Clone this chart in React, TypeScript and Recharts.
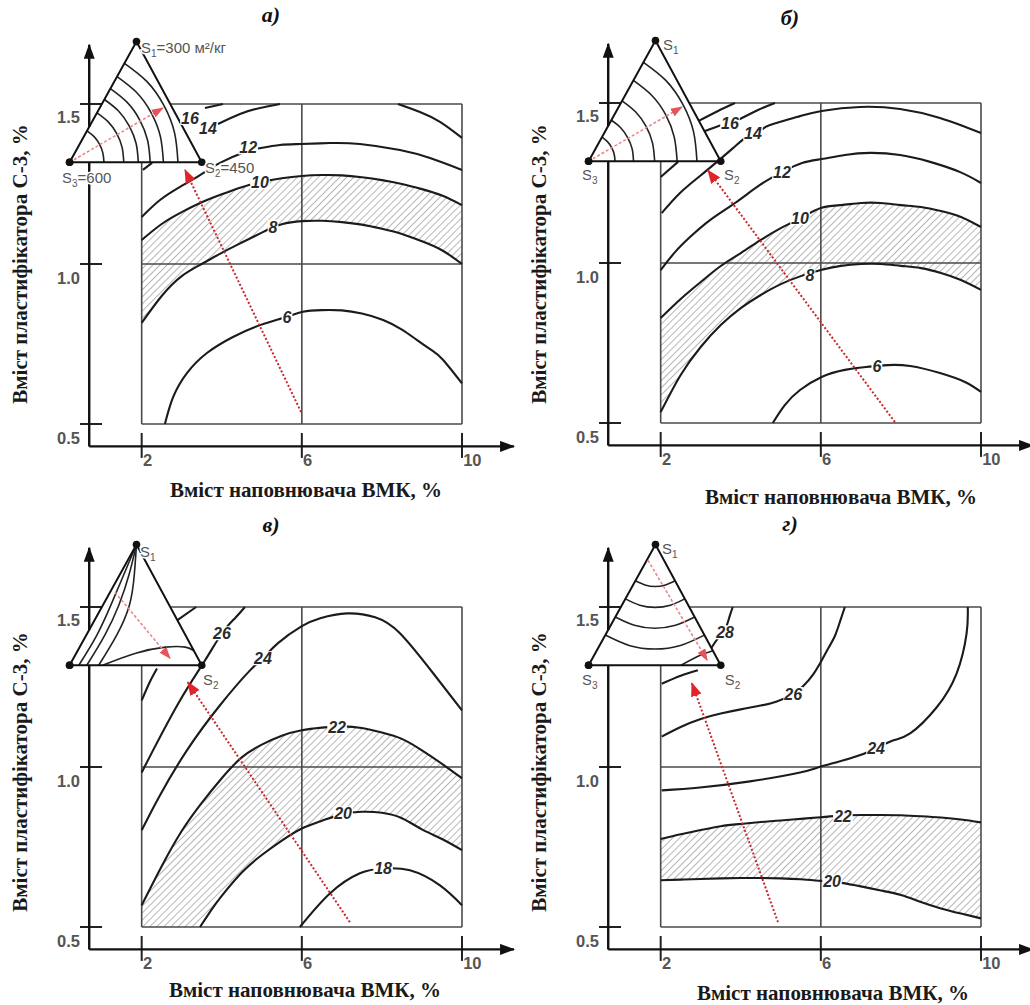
import React from "react";
import { ComposedChart, Line, Area, Scatter, XAxis, YAxis, ReferenceLine } from "recharts";

type Pt = { x: number; y: number };
type Lab = { x: number; y: number; t: string; sub?: string; rest?: string };
type Band = { x: number; lo: number; hi: number };
type Tri = [number, number];

const W = 515;
const H = 500;
const X_DOMAIN: [number, number] = [-1.5385, 11.324];
const Y_DOMAIN: [number, number] = [0.2625, 1.825];

const FONT_SANS = "'Liberation Sans', Arial, sans-serif";
const FONT_SERIF = "'Liberation Serif', 'Times New Roman', serif";

// ---- shared axis values ----
const xTicks = [2, 6, 10];
const yTicks = [0.5, 1.0, 1.5];
const xTickLabels: Lab[] = [
  { x: 2.03, y: 0.3875, t: "2" },
  { x: 6.03, y: 0.3875, t: "6" },
  { x: 10.03, y: 0.3875, t: "10" },
];
const yTickLabels: Lab[] = [
  { x: 0.46, y: 0.456, t: "0.5" },
  { x: 0.46, y: 0.956, t: "1.0" },
  { x: 0.46, y: 1.459, t: "1.5" },
];
const axisYLower: Pt[] = [{ x: 0.69, y: 0.43 }, { x: 0.69, y: 1.318 }];
const axisYUpper: Pt[] = [{ x: 0.69, y: 1.428 }, { x: 0.69, y: 1.685 }];
const axisX: Pt[] = [{ x: 0.69, y: 0.43 }, { x: 11.3, y: 0.43 }];
const triVerts: Pt[] = [
  { x: 0.2, y: 1.318 },
  { x: 1.87, y: 1.695 },
  { x: 3.5, y: 1.318 },
  { x: 0.2, y: 1.318 },
];
const boxTopStart = 2.713;
const tick15End = 1.006;

// ---- panel а ----
const aContours: Pt[][] = [
  [{ x: 3.58, y: 1.4875 }, { x: 4.03, y: 1.5 }],
  [{ x: 3.906, y: 1.4375 }, { x: 4.455, y: 1.469 }, { x: 4.955, y: 1.4875 }, { x: 5.455, y: 1.5 }],
  [{ x: 8.4, y: 1.5 }, { x: 8.95, y: 1.475 }, { x: 9.45, y: 1.444 }, { x: 10, y: 1.394 }],
  [{ x: 2.03, y: 1.294 }, { x: 2.26, y: 1.316 }],
  [
    { x: 2.0, y: 1.147 }, { x: 2.458, y: 1.2 }, { x: 2.958, y: 1.241 }, { x: 3.457, y: 1.278 },
    { x: 3.956, y: 1.316 }, { x: 4.58, y: 1.35 }, { x: 4.95, y: 1.362 }, { x: 5.455, y: 1.372 },
    { x: 5.98, y: 1.375 }, { x: 6.7, y: 1.378 }, { x: 7.45, y: 1.375 }, { x: 8.45, y: 1.356 },
    { x: 9.2, y: 1.331 }, { x: 10.0, y: 1.294 },
  ],
  [
    { x: 2.58, y: 0.5 }, { x: 2.785, y: 0.584 }, { x: 3.13, y: 0.659 }, { x: 3.63, y: 0.722 },
    { x: 4.28, y: 0.772 }, { x: 4.955, y: 0.809 }, { x: 5.63, y: 0.835 }, { x: 6.03, y: 0.851 },
    { x: 6.5, y: 0.856 }, { x: 7.0, y: 0.855 }, { x: 7.5, y: 0.845 }, { x: 8.03, y: 0.825 },
    { x: 8.5, y: 0.795 }, { x: 8.87, y: 0.763 }, { x: 9.25, y: 0.73 }, { x: 9.53, y: 0.7 },
    { x: 10, y: 0.627 },
  ],
];
const aBand: Band[] = [
  { x: 2.0, lo: 0.816, hi: 1.075 }, { x: 2.5, lo: 0.9, hi: 1.125 }, { x: 3.0, lo: 0.962, hi: 1.162 },
  { x: 3.5, lo: 1.0, hi: 1.193 }, { x: 4.0, lo: 1.035, hi: 1.218 }, { x: 4.5, lo: 1.067, hi: 1.24 },
  { x: 5.0, lo: 1.098, hi: 1.257 }, { x: 5.5, lo: 1.124, hi: 1.268 }, { x: 6.0, lo: 1.134, hi: 1.275 },
  { x: 6.5, lo: 1.135, hi: 1.278 }, { x: 7.0, lo: 1.131, hi: 1.277 }, { x: 7.5, lo: 1.123, hi: 1.271 },
  { x: 8.0, lo: 1.11, hi: 1.262 }, { x: 8.5, lo: 1.094, hi: 1.25 }, { x: 9.0, lo: 1.071, hi: 1.234 },
  { x: 9.5, lo: 1.043, hi: 1.214 }, { x: 10.0, lo: 1.0, hi: 1.184 },
];
const aLabels: Lab[] = [
  { x: 3.206, y: 1.456, t: "16" },
  { x: 3.656, y: 1.425, t: "14" },
  { x: 4.66, y: 1.364, t: "12" },
  { x: 4.955, y: 1.256, t: "10" },
  { x: 5.28, y: 1.116, t: "8" },
  { x: 5.63, y: 0.834, t: "6" },
];
const aSLabels: Lab[] = [
  { x: 1.983, y: 1.675, t: "S", sub: "1", rest: "=300 м²/кг" },
  { x: 3.58, y: 1.302, t: "S", sub: "2", rest: "=450" },
  { x: 0.01, y: 1.27, t: "S", sub: "3", rest: "=600" },
];
const aTriCurves: Tri[][] = [
  [[0.26, 0], [0.212, 0.078], [0.15, 0.15], [0.078, 0.212], [0, 0.26]],
  [[0.41, 0], [0.335, 0.123], [0.237, 0.237], [0.123, 0.335], [0, 0.41]],
  [[0.52, 0], [0.425, 0.155], [0.3, 0.3], [0.155, 0.425], [0, 0.52]],
  [[0.61, 0], [0.498, 0.182], [0.352, 0.352], [0.182, 0.498], [0, 0.61]],
  [[0.71, 0], [0.58, 0.212], [0.41, 0.41], [0.212, 0.58], [0, 0.71]],
  [[0.82, 0], [0.67, 0.245], [0.473, 0.473], [0.245, 0.67], [0, 0.82]],
];
const aArrow: Pt[] = [{ x: 5.98, y: 0.5375 }, { x: 3.083, y: 1.294 }];
const aTriArrow: Pt[] = [{ x: 0.2, y: 1.318 }, { x: 2.53, y: 1.4875 }];

// ---- panel б ----
const bContours: Pt[][] = [
  [{ x: 2.95, y: 1.444 }, { x: 3.432, y: 1.475 }, { x: 3.857, y: 1.5 }],
  [{ x: 2.0, y: 1.269 }, { x: 2.433, y: 1.316 }],
  [{ x: 3.09, y: 1.412 }, { x: 3.53, y: 1.431 }, { x: 3.73, y: 1.4375 }, { x: 3.98, y: 1.45 }, { x: 4.43, y: 1.478 }, { x: 4.855, y: 1.5 }],
  [
    { x: 2.025, y: 1.156 }, { x: 2.483, y: 1.219 }, { x: 2.982, y: 1.272 }, { x: 3.432, y: 1.319 },
    { x: 3.807, y: 1.359 }, { x: 4.106, y: 1.391 }, { x: 4.306, y: 1.405 }, { x: 4.555, y: 1.419 },
    { x: 4.73, y: 1.431 }, { x: 5.479, y: 1.459 }, { x: 6.02, y: 1.475 }, { x: 6.98, y: 1.4875 },
    { x: 7.98, y: 1.481 }, { x: 8.975, y: 1.453 }, { x: 10.0, y: 1.406 },
  ],
  [
    { x: 2.0, y: 0.978 }, { x: 2.358, y: 1.034 }, { x: 2.733, y: 1.081 }, { x: 3.232, y: 1.134 },
    { x: 3.856, y: 1.1875 }, { x: 4.48, y: 1.244 }, { x: 5.03, y: 1.284 }, { x: 5.53, y: 1.3125 },
    { x: 6.02, y: 1.325 }, { x: 6.6, y: 1.3375 }, { x: 7.23, y: 1.344 }, { x: 7.98, y: 1.3375 },
    { x: 8.73, y: 1.316 }, { x: 9.48, y: 1.284 }, { x: 10.0, y: 1.25 },
  ],
  [
    { x: 4.8, y: 0.5 }, { x: 5.1, y: 0.556 }, { x: 5.48, y: 0.603 }, { x: 6.02, y: 0.644 },
    { x: 6.6, y: 0.666 }, { x: 7.13, y: 0.675 }, { x: 7.4, y: 0.678 }, { x: 7.68, y: 0.681 },
    { x: 8.23, y: 0.678 }, { x: 8.975, y: 0.656 }, { x: 9.6, y: 0.628 }, { x: 10.0, y: 0.597 },
  ],
];
const bBand: Band[] = [
  { x: 2.0, lo: 0.534, hi: 0.828 }, { x: 2.5, lo: 0.65, hi: 0.8875 }, { x: 3.0, lo: 0.7375, hi: 0.9406 },
  { x: 3.5, lo: 0.806, hi: 0.9906 }, { x: 4.0, lo: 0.859, hi: 1.031 }, { x: 4.5, lo: 0.9, hi: 1.072 },
  { x: 5.0, lo: 0.934, hi: 1.109 }, { x: 5.5, lo: 0.959, hi: 1.141 }, { x: 6.0, lo: 0.978, hi: 1.172 },
  { x: 6.5, lo: 0.991, hi: 1.181 }, { x: 7.0, lo: 0.997, hi: 1.1875 }, { x: 7.5, lo: 0.997, hi: 1.1875 },
  { x: 8.0, lo: 0.991, hi: 1.181 }, { x: 8.5, lo: 0.984, hi: 1.175 }, { x: 9.0, lo: 0.969, hi: 1.1625 },
  { x: 9.5, lo: 0.947, hi: 1.144 }, { x: 10.0, lo: 0.916, hi: 1.1125 },
];
const bLabels: Lab[] = [
  { x: 3.731, y: 1.4375, t: "16" },
  { x: 4.306, y: 1.406, t: "14" },
  { x: 5.03, y: 1.284, t: "12" },
  { x: 5.48, y: 1.141, t: "10" },
  { x: 5.73, y: 0.9625, t: "8" },
  { x: 7.4, y: 0.678, t: "6" },
];
const bSLabels: Lab[] = [
  { x: 2.06, y: 1.681, t: "S", sub: "1", rest: "" },
  { x: 3.58, y: 1.275, t: "S", sub: "2", rest: "" },
  { x: 0.035, y: 1.275, t: "S", sub: "3", rest: "" },
];
const bTriCurves: Tri[][] = [
  [[0.2, 0], [0.163, 0.06], [0.115, 0.115], [0.06, 0.163], [0, 0.2]],
  [[0.34, 0], [0.278, 0.102], [0.196, 0.196], [0.102, 0.278], [0, 0.34]],
  [[0.5, 0], [0.408, 0.15], [0.289, 0.289], [0.15, 0.408], [0, 0.5]],
  [[0.67, 0], [0.547, 0.2], [0.387, 0.387], [0.2, 0.547], [0, 0.67]],
  [[0.82, 0], [0.67, 0.245], [0.473, 0.473], [0.245, 0.67], [0, 0.82]],
];
const bArrow: Pt[] = [{ x: 7.85, y: 0.503 }, { x: 3.18, y: 1.29 }];
const bTriArrow: Pt[] = [{ x: 0.2, y: 1.318 }, { x: 2.53, y: 1.4875 }];

// ---- panel в ----
const vContours: Pt[][] = [
  [{ x: 2.884, y: 1.458 }, { x: 3.36, y: 1.5 }],
  [{ x: 2.0, y: 1.208 }, { x: 2.2, y: 1.265 }, { x: 2.383, y: 1.308 }],
  [
    { x: 2.0, y: 0.983 }, { x: 2.283, y: 1.052 }, { x: 2.957, y: 1.208 }, { x: 3.581, y: 1.333 },
    { x: 4.006, y: 1.418 }, { x: 4.33, y: 1.465 }, { x: 4.58, y: 1.5 },
  ],
  [
    { x: 2.0, y: 0.8025 }, { x: 2.458, y: 0.912 }, { x: 3.13, y: 1.052 }, { x: 3.956, y: 1.193 },
    { x: 4.706, y: 1.302 }, { x: 5.03, y: 1.34 }, { x: 5.405, y: 1.387 }, { x: 6.0, y: 1.44 },
    { x: 6.46, y: 1.465 }, { x: 7.13, y: 1.48 }, { x: 7.83, y: 1.468 }, { x: 8.45, y: 1.418 },
    { x: 9.28, y: 1.293 }, { x: 10.0, y: 1.177 },
  ],
  [
    { x: 3.457, y: 0.5 }, { x: 3.75, y: 0.555 }, { x: 4.0, y: 0.597 }, { x: 4.5, y: 0.67 },
    { x: 5.0, y: 0.725 }, { x: 5.5, y: 0.77 }, { x: 6.0, y: 0.808 }, { x: 6.5, y: 0.832 },
    { x: 7.0, y: 0.852 }, { x: 7.5, y: 0.86 }, { x: 8.0, y: 0.857 }, { x: 8.5, y: 0.84 },
    { x: 9.0, y: 0.805 }, { x: 9.5, y: 0.775 }, { x: 10, y: 0.74 },
  ],
  [
    { x: 5.95, y: 0.5 }, { x: 6.7, y: 0.605 }, { x: 7.45, y: 0.668 }, { x: 8.03, y: 0.683 },
    { x: 8.7, y: 0.677 }, { x: 9.45, y: 0.63 }, { x: 10, y: 0.568 },
  ],
];
const vBand: Band[] = [
  { x: 2.0, lo: 0.5, hi: 0.568 }, { x: 2.5, lo: 0.5, hi: 0.69 }, { x: 3.0, lo: 0.5, hi: 0.8 },
  { x: 3.5, lo: 0.51, hi: 0.888 }, { x: 4.0, lo: 0.597, hi: 0.965 }, { x: 4.5, lo: 0.67, hi: 1.03 },
  { x: 5.0, lo: 0.725, hi: 1.07 }, { x: 5.5, lo: 0.77, hi: 1.098 }, { x: 6.0, lo: 0.808, hi: 1.115 },
  { x: 6.5, lo: 0.832, hi: 1.123 }, { x: 7.0, lo: 0.852, hi: 1.127 }, { x: 7.5, lo: 0.86, hi: 1.122 },
  { x: 8.0, lo: 0.857, hi: 1.108 }, { x: 8.5, lo: 0.84, hi: 1.088 }, { x: 9.0, lo: 0.805, hi: 1.052 },
  { x: 9.5, lo: 0.775, hi: 1.01 }, { x: 10.0, lo: 0.74, hi: 0.965 },
];
const vLabels: Lab[] = [
  { x: 4.006, y: 1.418, t: "26" },
  { x: 5.03, y: 1.34, t: "24" },
  { x: 6.88, y: 1.124, t: "22" },
  { x: 7.03, y: 0.855, t: "20" },
  { x: 8.03, y: 0.683, t: "18" },
];
const vSLabels: Lab[] = [
  { x: 1.96, y: 1.672, t: "S", sub: "1", rest: "" },
  { x: 3.53, y: 1.272, t: "S", sub: "2", rest: "" },
];
const vTriCurves: Tri[][] = [
  [[0.07, 0], [0.08, 0.25], [0.06, 0.5], [0.03, 0.75], [0, 1]],
  [[0.13, 0], [0.14, 0.25], [0.12, 0.5], [0.07, 0.75], [0, 1]],
  [[0.22, 0], [0.23, 0.25], [0.2, 0.5], [0.11, 0.75], [0, 1]],
  [[0.25, 0], [0.45, 0.1], [0.65, 0.15], [0.8, 0.15], [0.88, 0.12]],
];
const vArrow: Pt[] = [{ x: 7.2, y: 0.515 }, { x: 3.15, y: 1.265 }];
const vTriArrow: Pt[] = [{ x: 1.334, y: 1.546 }, { x: 2.707, y: 1.34 }];

// ---- panel г ----
const gContours: Pt[][] = [
  [{ x: 2.025, y: 1.26 }, { x: 2.5, y: 1.285 }, { x: 2.93, y: 1.302 }],
  [{ x: 3.26, y: 1.371 }, { x: 3.45, y: 1.405 }, { x: 3.61, y: 1.43 }, { x: 3.72, y: 1.47 }, { x: 3.8, y: 1.5 }],
  [
    { x: 2.025, y: 1.095 }, { x: 2.5, y: 1.125 }, { x: 3.0, y: 1.15 }, { x: 3.5, y: 1.167 },
    { x: 4.0, y: 1.18 }, { x: 4.5, y: 1.192 }, { x: 4.9, y: 1.205 }, { x: 5.31, y: 1.228 },
    { x: 5.555, y: 1.252 }, { x: 5.8, y: 1.288 }, { x: 6.02, y: 1.333 }, { x: 6.2, y: 1.374 },
    { x: 6.356, y: 1.411 }, { x: 6.48, y: 1.455 }, { x: 6.6, y: 1.5 },
  ],
  [
    { x: 2.025, y: 0.927 }, { x: 2.982, y: 0.936 }, { x: 4.23, y: 0.955 }, { x: 5.48, y: 0.983 },
    { x: 6.02, y: 1.002 }, { x: 6.74, y: 1.027 }, { x: 7.38, y: 1.058 }, { x: 7.8, y: 1.083 },
    { x: 8.23, y: 1.105 }, { x: 8.89, y: 1.186 }, { x: 9.39, y: 1.292 }, { x: 9.64, y: 1.417 },
    { x: 9.67, y: 1.5 },
  ],
];
const gBand: Band[] = [
  { x: 2.0, lo: 0.646, hi: 0.775 }, { x: 2.5, lo: 0.648, hi: 0.79 }, { x: 3.0, lo: 0.65, hi: 0.803 },
  { x: 3.5, lo: 0.652, hi: 0.815 }, { x: 4.0, lo: 0.653, hi: 0.822 }, { x: 4.5, lo: 0.653, hi: 0.828 },
  { x: 5.0, lo: 0.652, hi: 0.833 }, { x: 5.5, lo: 0.649, hi: 0.838 }, { x: 6.0, lo: 0.644, hi: 0.843 },
  { x: 6.5, lo: 0.638, hi: 0.848 }, { x: 7.0, lo: 0.627, hi: 0.85 }, { x: 7.5, lo: 0.614, hi: 0.85 },
  { x: 8.0, lo: 0.6, hi: 0.849 }, { x: 8.5, lo: 0.578, hi: 0.846 }, { x: 9.0, lo: 0.558, hi: 0.842 },
  { x: 9.5, lo: 0.542, hi: 0.836 }, { x: 10.0, lo: 0.527, hi: 0.827 },
];
const gLabels: Lab[] = [
  { x: 3.608, y: 1.421, t: "28" },
  { x: 5.31, y: 1.228, t: "26" },
  { x: 7.38, y: 1.058, t: "24" },
  { x: 6.55, y: 0.846, t: "22" },
  { x: 6.28, y: 0.642, t: "20" },
];
const gSLabels: Lab[] = [
  { x: 2.03, y: 1.684, t: "S", sub: "1", rest: "" },
  { x: 3.6, y: 1.272, t: "S", sub: "2", rest: "" },
  { x: 0.035, y: 1.272, t: "S", sub: "3", rest: "" },
];
const gTriCurves: Tri[][] = [
  [[0, 0.7], [0.09, 0.666], [0.173, 0.653], [0.245, 0.666], [0.3, 0.7]],
  [[0, 0.55], [0.135, 0.498], [0.26, 0.48], [0.367, 0.498], [0.45, 0.55]],
  [[0, 0.4], [0.179, 0.331], [0.346, 0.307], [0.49, 0.331], [0.6, 0.4]],
  [[0, 0.25], [0.224, 0.164], [0.433, 0.134], [0.612, 0.164], [0.75, 0.25]],
  [[0.7, 0], [0.8, 0.08], [0.88, 0.12]],
];
const gArrow: Pt[] = [{ x: 4.93, y: 0.515 }, { x: 2.78, y: 1.262 }];
const gTriArrow: Pt[] = [{ x: 1.683, y: 1.646 }, { x: 3.16, y: 1.334 }];

// ---- helpers ----
const triToXY = (c: Tri[]): Pt[] => {
  const s3 = triVerts[0], s1 = triVerts[1], s2 = triVerts[2];
  return c.map(([a, b]) => ({
    x: s3.x + a * (s2.x - s3.x) + b * (s1.x - s3.x),
    y: s3.y + a * (s2.y - s3.y) + b * (s1.y - s3.y),
  }));
};

const contourLabelShape = (p: any) => {
  const t: string = p.payload.t;
  const w = t.length * 8.8 + 2;
  return (
    <g>
      <rect x={p.cx - w / 2} y={p.cy - 7} width={w} height={14} fill="#fff" />
      <text x={p.cx} y={p.cy} dy="0.36em" textAnchor="middle" fontFamily={FONT_SANS} fontWeight={700} fontStyle="italic" fontSize={16} fill="#2a2a2a">
        {t}
      </text>
    </g>
  );
};
const xTickShape = (p: any) => (
  <text x={p.cx} y={p.cy} dy="0.36em" textAnchor="start" fontFamily={FONT_SANS} fontWeight={700} fontSize={16.5} fill="#555">
    {p.payload.t}
  </text>
);
const yTickShape = (p: any) => (
  <text x={p.cx} y={p.cy} dy="0.36em" textAnchor="end" fontFamily={FONT_SANS} fontWeight={700} fontSize={16.5} fill="#555">
    {p.payload.t}
  </text>
);
const sLabelShape = (p: any) => (
  <text
    x={p.cx}
    y={p.cy}
    dy="0.36em"
    textAnchor="start"
    fontFamily={FONT_SANS}
    fontSize={15}
    fill="#555"
    stroke="#fff"
    strokeWidth={3}
    paintOrder="stroke"
  >
    {p.payload.t}
    <tspan fontSize={10} dy={4}>{p.payload.sub}</tspan>
    <tspan dy={-4}>{p.payload.rest}</tspan>
  </text>
);
const vertexDot = (p: any) => <circle key={`v${p.index}`} cx={p.cx} cy={p.cy} r={3.8} fill="#111" />;

type PanelProps = {
  id: string;
  contours: Pt[][];
  band: Band[];
  bandEdges: ("lo" | "hi")[];
  labels: Lab[];
  sLabels: Lab[];
  triCurves: Tri[][];
  arrow: Pt[];
  triArrow: Pt[];
};

function Panel({ id, contours, band, bandEdges, labels, sLabels, triCurves, arrow, triArrow }: PanelProps) {
  const boxStroke = "#4a4a4a";
  return (
    <ComposedChart width={W} height={H} margin={{ top: 0, right: 0, bottom: 0, left: 0 }}>
      <defs>
        <pattern id={`hatch-${id}`} patternUnits="userSpaceOnUse" width="5" height="5" patternTransform="rotate(45)">
          <line x1="0" y1="0" x2="0" y2="5" stroke="#7a7a7a" strokeWidth="1.1" />
        </pattern>
        <marker id={`ax-${id}`} viewBox="0 0 15 11" refX="14" refY="5.5" markerWidth="15" markerHeight="11" markerUnits="userSpaceOnUse" orient="auto">
          <path d="M0,0 L15,5.5 L0,11 z" fill="#111" />
        </marker>
        <marker id={`red-${id}`} viewBox="0 0 14 11" refX="13" refY="5.5" markerWidth="14" markerHeight="11" markerUnits="userSpaceOnUse" orient="auto">
          <path d="M0,0 L14,5.5 L0,11 z" fill="#e0242a" />
        </marker>
        <marker id={`lred-${id}`} viewBox="0 0 12 9" refX="11" refY="4.5" markerWidth="12" markerHeight="9" markerUnits="userSpaceOnUse" orient="auto">
          <path d="M0,0 L12,4.5 L0,9 z" fill="#e4555a" />
        </marker>
      </defs>
      <XAxis type="number" dataKey="x" domain={X_DOMAIN} hide allowDataOverflow />
      <YAxis type="number" domain={Y_DOMAIN} hide allowDataOverflow />

      <Area
        data={band}
        dataKey={(d: Band) => [d.lo, d.hi]}
        type="natural"
        fill={`url(#hatch-${id})`}
        fillOpacity={1}
        stroke="none"
        isAnimationActive={false}
        activeDot={false}
      />

      {/* plot frame and grid */}
      <ReferenceLine segment={[{ x: 2, y: 0.5 }, { x: 2, y: 1.318 }]} stroke={boxStroke} strokeWidth={1.6} />
      <ReferenceLine segment={[{ x: 2, y: 0.5 }, { x: 10, y: 0.5 }]} stroke={boxStroke} strokeWidth={1.6} />
      <ReferenceLine segment={[{ x: 10, y: 0.5 }, { x: 10, y: 1.5 }]} stroke={boxStroke} strokeWidth={1.6} />
      <ReferenceLine segment={[{ x: boxTopStart, y: 1.5 }, { x: 10, y: 1.5 }]} stroke={boxStroke} strokeWidth={1.6} />
      <ReferenceLine segment={[{ x: 6, y: 0.5 }, { x: 6, y: 1.5 }]} stroke={boxStroke} strokeWidth={1.6} />
      <ReferenceLine segment={[{ x: 2, y: 1.0 }, { x: 10, y: 1.0 }]} stroke={boxStroke} strokeWidth={1.6} />

      {/* axis ticks */}
      {xTicks.map((t) => (
        <ReferenceLine key={`xt${t}`} segment={[{ x: t, y: 0.394 }, { x: t, y: 0.472 }]} stroke="#222" strokeWidth={2} />
      ))}
      {yTicks.map((t) => (
        <ReferenceLine key={`yt${t}`} segment={[{ x: 0.46, y: t }, { x: t === 1.5 ? tick15End : 1.01, y: t }]} stroke="#222" strokeWidth={2} />
      ))}

      {contours.map((c, i) => (
        <Line key={`c${i}`} data={c} dataKey="y" type="natural" stroke="#1b1b1b" strokeWidth={2.1} dot={false} activeDot={false} isAnimationActive={false} />
      ))}
      {bandEdges.map((k) => (
        <Line key={`be${k}`} data={band} dataKey={k} type="natural" stroke="#1b1b1b" strokeWidth={2.1} dot={false} activeDot={false} isAnimationActive={false} />
      ))}

      {/* ternary triangle */}
      {triCurves.map((c, i) => (
        <Line key={`tc${i}`} data={triToXY(c)} dataKey="y" type="natural" stroke="#222" strokeWidth={1.6} dot={false} activeDot={false} isAnimationActive={false} />
      ))}
      <Line data={triVerts} dataKey="y" type="linear" stroke="#111" strokeWidth={2} dot={vertexDot} activeDot={false} isAnimationActive={false} />
      <Line data={triArrow} dataKey="y" type="linear" stroke="#e88a8d" strokeWidth={1.6} strokeDasharray="3 2" dot={false} activeDot={false} isAnimationActive={false} markerEnd={`url(#lred-${id})`} />

      {/* red direction arrow */}
      <Line data={arrow} dataKey="y" type="linear" stroke="#c8282d" strokeWidth={2} strokeDasharray="2 2" dot={false} activeDot={false} isAnimationActive={false} markerEnd={`url(#red-${id})`} />

      {/* drawn axes */}
      <Line data={axisYLower} dataKey="y" type="linear" stroke="#111" strokeWidth={2.4} dot={false} activeDot={false} isAnimationActive={false} />
      <Line data={axisYUpper} dataKey="y" type="linear" stroke="#111" strokeWidth={2.4} dot={false} activeDot={false} isAnimationActive={false} markerEnd={`url(#ax-${id})`} />
      <Line data={axisX} dataKey="y" type="linear" stroke="#111" strokeWidth={2.4} dot={false} activeDot={false} isAnimationActive={false} markerEnd={`url(#ax-${id})`} />

      <Scatter data={xTickLabels} dataKey="y" shape={xTickShape} isAnimationActive={false} />
      <Scatter data={yTickLabels} dataKey="y" shape={yTickShape} isAnimationActive={false} />
      <Scatter data={sLabels} dataKey="y" shape={sLabelShape} isAnimationActive={false} />
      <Scatter data={labels} dataKey="y" shape={contourLabelShape} isAnimationActive={false} />
    </ComposedChart>
  );
}

const titleStyle: React.CSSProperties = {
  position: "absolute",
  fontFamily: FONT_SERIF,
  fontWeight: 700,
  fontStyle: "italic",
  fontSize: 22,
  color: "#111",
  transform: "translate(-50%, -50%)",
  whiteSpace: "nowrap",
  lineHeight: 1,
};
const xTitleStyle: React.CSSProperties = {
  position: "absolute",
  fontFamily: FONT_SERIF,
  fontWeight: 700,
  fontSize: 21,
  color: "#1a1a1a",
  transform: "translate(-50%, -50%)",
  whiteSpace: "nowrap",
  lineHeight: 1,
};
const yTitleStyle: React.CSSProperties = {
  ...xTitleStyle,
  transform: "translate(-50%, -50%) rotate(-90deg)",
};

const panelTitles = ["а)", "б)", "в)", "г)"];
const xTitle = "Вміст наповнювача ВМК, %";
const yTitle = "Вміст пластифікатора С-3, %";

export default function App() {
  return (
    <div style={{ position: "absolute", left: 0, top: 0, width: 1030, height: 1005, overflow: "hidden", background: "#fff" }}>
      <div style={{ position: "absolute", left: 0, top: 0 }}>
        <Panel id="a" contours={aContours} band={aBand} bandEdges={["lo", "hi"]} labels={aLabels} sLabels={aSLabels} triCurves={aTriCurves} arrow={aArrow} triArrow={aTriArrow} />
      </div>
      <div style={{ position: "absolute", left: 519, top: -1 }}>
        <Panel id="b" contours={bContours} band={bBand} bandEdges={["lo", "hi"]} labels={bLabels} sLabels={bSLabels} triCurves={bTriCurves} arrow={bArrow} triArrow={bTriArrow} />
      </div>
      <div style={{ position: "absolute", left: 0, top: 503 }}>
        <Panel id="v" contours={vContours} band={vBand} bandEdges={["hi"]} labels={vLabels} sLabels={vSLabels} triCurves={vTriCurves} arrow={vArrow} triArrow={vTriArrow} />
      </div>
      <div style={{ position: "absolute", left: 519, top: 503 }}>
        <Panel id="g" contours={gContours} band={gBand} bandEdges={["lo", "hi"]} labels={gLabels} sLabels={gSLabels} triCurves={gTriCurves} arrow={gArrow} triArrow={gTriArrow} />
      </div>

      <div style={{ ...titleStyle, left: 271, top: 15 }}>{panelTitles[0]}</div>
      <div style={{ ...titleStyle, left: 790, top: 18 }}>{panelTitles[1]}</div>
      <div style={{ ...titleStyle, left: 271, top: 525 }}>{panelTitles[2]}</div>
      <div style={{ ...titleStyle, left: 790, top: 524 }}>{panelTitles[3]}</div>

      <div style={{ ...xTitleStyle, left: 306, top: 490 }}>{xTitle}</div>
      <div style={{ ...xTitleStyle, left: 841, top: 497 }}>{xTitle}</div>
      <div style={{ ...xTitleStyle, left: 305, top: 990 }}>{xTitle}</div>
      <div style={{ ...xTitleStyle, left: 833, top: 993 }}>{xTitle}</div>

      <div style={{ ...yTitleStyle, left: 20, top: 264 }}>{yTitle}</div>
      <div style={{ ...yTitleStyle, left: 539, top: 264 }}>{yTitle}</div>
      <div style={{ ...yTitleStyle, left: 20, top: 772 }}>{yTitle}</div>
      <div style={{ ...yTitleStyle, left: 539, top: 772 }}>{yTitle}</div>
    </div>
  );
}
